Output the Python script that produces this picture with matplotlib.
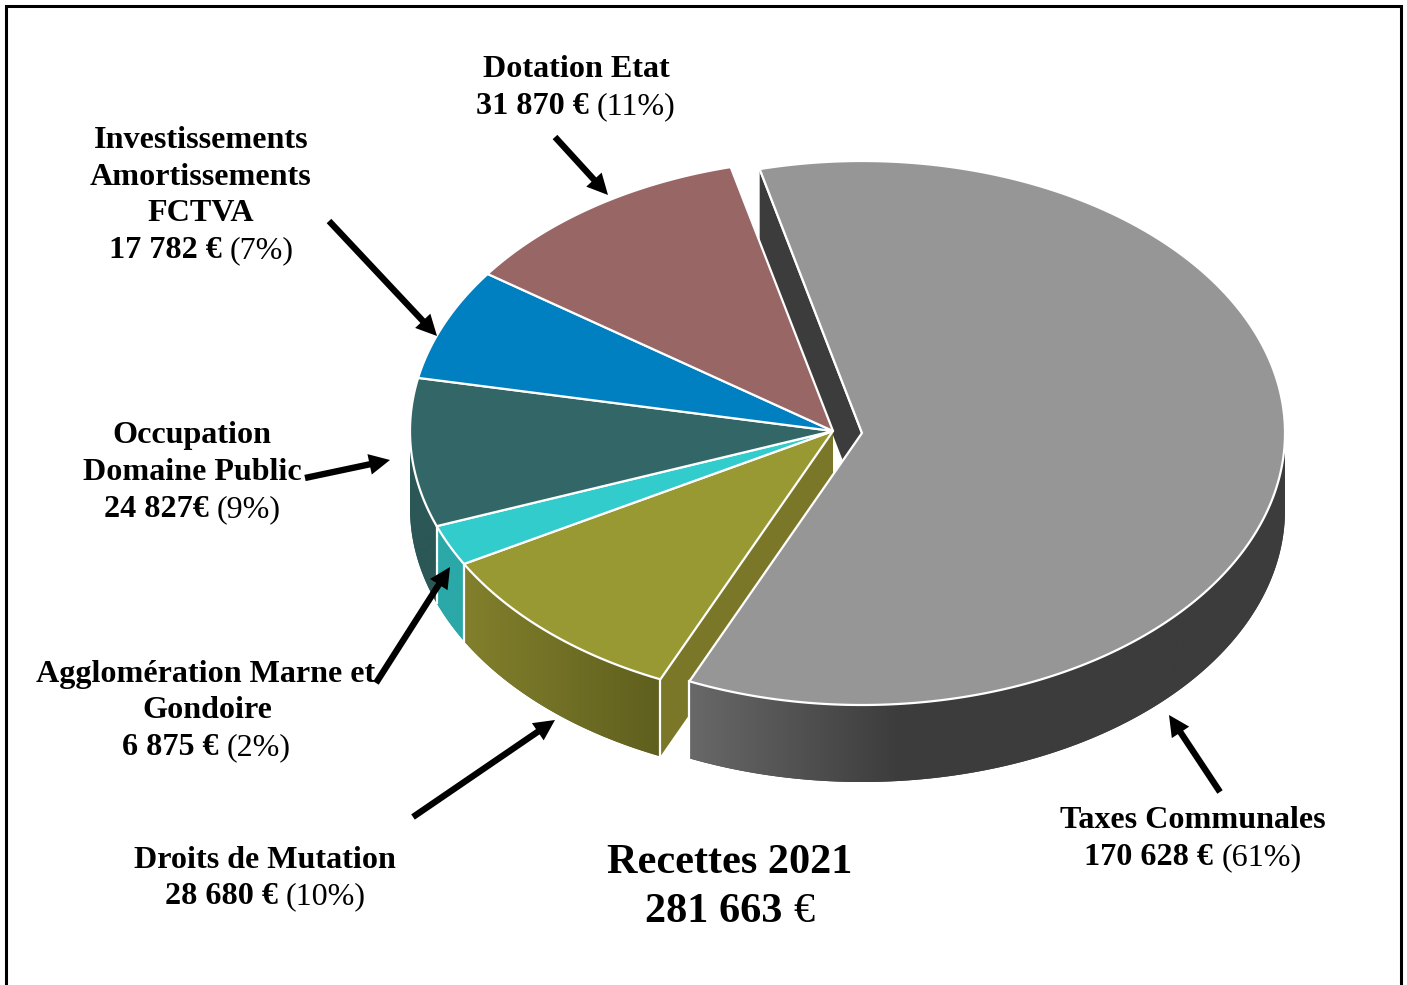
import numpy as np
import matplotlib
matplotlib.use("Agg")
import matplotlib.pyplot as plt
from matplotlib.patches import Polygon, FancyArrowPatch
from matplotlib.colors import to_rgb

categories = ["Taxes Communales", "Droits de Mutation", "Agglomération Marne et Gondoire",
              "Occupation Domaine Public", "Investissements Amortissements FCTVA", "Dotation Etat"]
# The wedge drawn for Investissements spans about 24 degrees, which fits 18 782 and the printed
# 7% and 281 663 total; the printed label reads 17 782 and is reproduced as printed below.
values = [170628, 28680, 6875, 24827, 18782, 31870]
top_colors = ["#969696", "#999933", "#33cccc", "#336666", "#0080c0", "#996666"]
wall_left = ["#686868", "#82802c", "#2ba8a8", "#2c5757", "#006699", "#7a5252"]
wall_right = ["#3c3c3c", "#5f5f1e", "#2ba8a8", "#2c5757", "#006699", "#7a5252"]
cut_colors = ["#3c3c3c", "#7a7828", "#2ba8a8", "#2c5757", "#006699", "#7a5252"]

W, H = 1407, 985
fig = plt.figure(figsize=(W / 100, H / 100), dpi=100, facecolor="white")
ax = fig.add_axes([0, 0, 1, 1])

CX, CY, RX, RY, DEPTH = 833, 431, 423, 272, 77
EXPLODE = (29, 2)
START = -14.0

v = np.array(values, float)
sweeps = v / v.sum() * 360
edges = START + np.concatenate([[0], np.cumsum(sweeps)])


def pt(a, cx, cy):
    a = np.radians(a)
    return cx + RX * np.sin(a), cy - RY * np.cos(a)


def arc(a0, a1, cx, cy):
    t = np.linspace(a0, a1, 300)
    return np.column_stack(pt(t, cx, cy))


def cut_face(a, cx, cy, color, z):
    x, y = pt(a, cx, cy)
    ax.add_patch(Polygon([(cx, cy), (x, y), (x, y + DEPTH), (cx, cy + DEPTH)],
                         closed=True, fc=color, ec="none", zorder=z))


def wall(a0, a1, cx, cy, cl, cr, xspan, z):
    lo, hi = max(a0, 90), min(a1, 270)
    if hi <= lo:
        return
    upper = arc(hi, lo, cx, cy)
    lower = arc(lo, hi, cx, cy) + np.array([0, DEPTH])
    poly = Polygon(np.vstack([upper, lower]), closed=True, fc=cr, ec="none", zorder=z)
    ax.add_patch(poly)
    c0, c1 = np.array(to_rgb(cl)), np.array(to_rgb(cr))
    f = np.linspace(0, 1, 256)[None, :, None]
    img = c0[None, None, :] + (c1 - c0)[None, None, :] * f
    x0 = min(upper[:, 0].min(), xspan[0])
    x1 = max(upper[:, 0].max(), xspan[1])
    grad = np.clip((np.linspace(x0, x1, 512) - xspan[0]) / (xspan[1] - xspan[0]), 0, 1)[None, :, None]
    img = c0[None, None, :] + (c1 - c0)[None, None, :] * grad
    im = ax.imshow(img, extent=(x0, x1, upper[:, 1].max() + DEPTH + 2, upper[:, 1].min() - 2),
                   aspect="auto", interpolation="bilinear", zorder=z + 0.01)
    im.set_clip_path(poly)


def top(a0, a1, cx, cy, color, z):
    pts = np.vstack([[(cx, cy)], arc(a0, a1, cx, cy)])
    ax.add_patch(Polygon(pts, closed=True, fc=color, ec="white", lw=1.6, joinstyle="round", zorder=z))


def white_edge(a, cx, cy, z):
    x, y = pt(a, cx, cy)
    ax.plot([x, x], [y, y + DEPTH], color="white", lw=1.6, zorder=z)


# back cut face of the exploded slice
gx, gy = CX + EXPLODE[0], CY + EXPLODE[1]
cut_face(edges[0], gx, gy, cut_colors[0], 1)
x0, y0 = pt(edges[0], gx, gy)
ax.plot([x0, gx], [y0, gy], color="white", lw=1.6, zorder=1.1)

# remaining slices, walls and tops
spans = [(692, 900), (465, 661), (437, 465), (410, 437), (410, 500), (480, 730)]
for i in range(1, len(values)):
    a0, a1 = edges[i], edges[i + 1]
    if i == 1:
        cut_face(a0, CX, CY, cut_colors[i], 2)
    wall(a0, a1, CX, CY, wall_left[i], wall_right[i], spans[i], 2 + 0.1 * (len(values) - i))
for i in range(1, len(values)):
    a0, a1 = edges[i], edges[i + 1]
    if a0 < 270:
        white_edge(a0, CX, CY, 3)
    top(a0, a1, CX, CY, top_colors[i], 4)

# exploded slice in front
wall(edges[0], edges[1], gx, gy, wall_left[0], wall_right[0], spans[0], 5)
white_edge(edges[1], gx, gy, 5.5)
top(edges[0], edges[1], gx, gy, top_colors[0], 6)

# frame
ax.plot([5.5, 5.5, 1401, 1401], [H + 5, 6, 6, H + 5], color="black", lw=2.2, zorder=10,
        solid_joinstyle="miter")

# arrows
arrow_tails = [(1220, 792), (413, 817), (376, 683), (305, 478), (329, 221), (555, 137)]
arrow_tips = [(1169, 715), (555, 720), (450, 567), (390, 460), (437, 336), (608, 195)]
for t, h in zip(arrow_tails, arrow_tips):
    ax.add_patch(FancyArrowPatch(t, h, arrowstyle="simple,tail_width=4.6,head_width=15,head_length=15",
                                 mutation_scale=1, lw=0, color="black", shrinkA=0, shrinkB=0,
                                 zorder=12))

ax.set_xlim(0, W)
ax.set_ylim(H, 0)
ax.axis("off")

# text
FONT = "Liberation Serif"
renderer = fig.canvas.get_renderer()


def runs(cx, base, parts, size):
    gap = size * 100 / 72 * 0.25
    items = [ax.text(0, base, s, family=FONT, fontsize=size, weight=w, color="black",
                     ha="left", va="baseline", zorder=15) for s, w in parts]
    widths = [it.get_window_extent(renderer).width for it in items]
    total = sum(widths) + gap * (len(items) - 1)
    x = cx - total / 2
    for it, wd in zip(items, widths):
        it.set_x(x)
        x += wd + gap


SZ = 23.1
B, R = "bold", "normal"
runs(576, 77, [("Dotation Etat", B)], SZ)
runs(576, 114, [("31 870 €", B), ("(11%)", R)], SZ)
runs(201, 148, [("Investissements", B)], SZ)
runs(201, 185, [("Amortissements", B)], SZ)
runs(201, 221, [("FCTVA", B)], SZ)
runs(201, 258, [("17 782 €", B), ("(7%)", R)], SZ)
runs(192, 443, [("Occupation", B)], SZ)
runs(192, 480, [("Domaine Public", B)], SZ)
runs(192, 517, [("24 827€", B), ("(9%)", R)], SZ)
runs(206, 682, [("Agglomération Marne et", B)], SZ)
runs(207, 718, [("Gondoire", B)], SZ)
runs(206, 755, [("6 875 €", B), ("(2%)", R)], SZ)
runs(265, 868, [("Droits de Mutation", B)], SZ)
runs(265, 904, [("28 680 €", B), ("(10%)", R)], SZ)
runs(1193, 828, [("Taxes Communales", B)], SZ)
runs(1193, 865, [("170 628 €", B), ("(61%)", R)], SZ)
runs(730, 873, [("Recettes 2021", B)], 30.4)
runs(730, 922, [("281 663", B), ("€", R)], 30.4)

fig.savefig("out.png", dpi=100)
